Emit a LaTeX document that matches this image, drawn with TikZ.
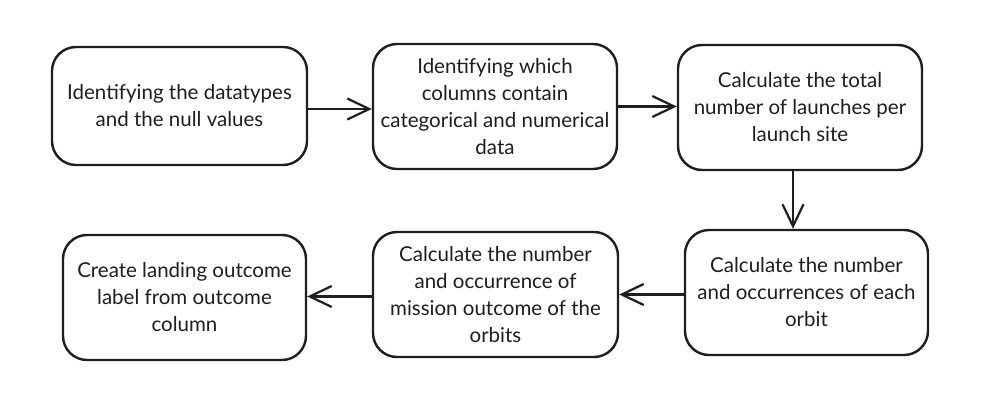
\documentclass[tikz,border=0pt]{standalone}
\usepackage{fontspec}
\setmainfont{Lato}
\usetikzlibrary{arrows.meta}
\definecolor{ink}{HTML}{1E1E1E}
\tikzset{
  stepbox/.style={draw=ink, line width=2.4pt, rounded corners=24pt, fill=white,
    align=center, text=ink, inner sep=0pt, font=\fontsize{20.5}{27}\selectfont},
  flow/.style={draw=ink, line width=2.4pt, -{Straight Barb[length=22pt,width=21pt,line width=2.2pt]}}
}
\begin{document}
\begin{tikzpicture}[x=1pt,y=-1pt]
\useasboundingbox (0,0) rectangle (985,404);
\node[stepbox, minimum width=255pt, minimum height=118pt] (b1) at (179.5,106)
  {Identifying the datatypes\\and the null values};
\node[stepbox, minimum width=244pt, minimum height=125pt] (b2) at (495,106.5)
  {Identifying which\\columns contain\\categorical and numerical\\data};
\node[stepbox, minimum width=244pt, minimum height=125pt] (b3) at (800,107.5)
  {Calculate the total\\number of launches per\\launch site};
\node[stepbox, minimum width=243pt, minimum height=125pt] (b4) at (806.5,292.5)
  {Calculate the number\\and occurrences of each\\orbit};
\node[stepbox, minimum width=245pt, minimum height=125pt] (b5) at (495.5,294.5)
  {Calculate the number\\and occurrence of\\mission outcome of the\\orbits};
\node[stepbox, minimum width=243pt, minimum height=125pt] (b6) at (184.5,297.5)
  {Create landing outcome\\label from outcome\\column};
\draw[flow] ([yshift=-3pt]b1.east) -- ([yshift=-3pt]b1.east -| b2.west);
\draw[flow] (b2.east) -- (b2.east -| b3.west);
\draw[flow] ([xshift=-7pt]b3.south) -- ([xshift=-7pt]b3.south |- b4.north);
\draw[flow] ([yshift=-2pt]b4.west) -- ([yshift=-2pt]b4.west -| b5.east);
\draw[flow] ([yshift=-2pt]b5.west) -- ([yshift=-2pt]b5.west -| b6.east);
\end{tikzpicture}
\end{document}
